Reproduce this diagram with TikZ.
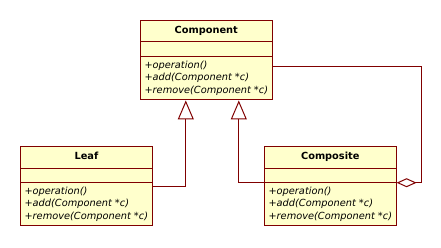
\documentclass[tikz,border=0pt]{standalone}
\usepackage{fontspec}
\setmainfont{DejaVu Sans}
\usepackage{tikz}
\usetikzlibrary{shapes.multipart, arrows.meta, positioning, calc}

\definecolor{umlline}{RGB}{128,0,0}
\definecolor{umlfill}{RGB}{255,255,204}

\begin{document}
\begin{tikzpicture}[
    x=1pt, y=-1pt,
    umlclass/.style={rectangle split, rectangle split parts=3, draw=umlline, fill=umlfill, line width=1pt,
        rectangle split empty part height=2pt, rectangle split empty part depth=0pt,
        rectangle split part align={center, center, left}, align=left,
        inner xsep=4pt, inner ysep=4pt, anchor=north west,
        font=\fontsize{9.8}{12.5}\selectfont},
    inherit/.style={-{Triangle[open, length=19pt, width=16pt]}, draw=umlline, line width=1pt},
    aggregation/.style={{Diamond[open, length=20pt, width=9pt]}-, draw=umlline, line width=1pt}
]
    \useasboundingbox (0,0) rectangle (441,248);

    % Classes
    \node[umlclass, minimum width=129pt] (component) at (140,20) {\textbf{Component}\strut
        \nodepart{two}
        \nodepart{three}\textit{+operation()}\\\textit{+add(Component *c)}\\\textit{+remove(Component *c)}};
    \node[umlclass, minimum width=132pt] (leaf) at (20,146) {\textbf{Leaf}\strut
        \nodepart{two}
        \nodepart{three}\textit{+operation()}\\\textit{+add(Component *c)}\\\textit{+remove(Component *c)}};
    \node[umlclass, minimum width=131pt] (composite) at (264,146) {\textbf{Composite}\strut
        \nodepart{two}
        \nodepart{three}\textit{+operation()}\\\textit{+add(Component *c)}\\\textit{+remove(Component *c)}};

    % Generalizations
    \draw[inherit] (leaf.east) -| ([xshift=-20.5pt]component.south);
    \draw[inherit] ([yshift=3.5pt]composite.west) -| ([xshift=32.5pt]component.south);

    % Aggregation back to the component
    \draw[aggregation] ([yshift=3.5pt]composite.east) -- ++(25,0) |- ([yshift=-6pt]component.east);

\end{tikzpicture}
\end{document}
